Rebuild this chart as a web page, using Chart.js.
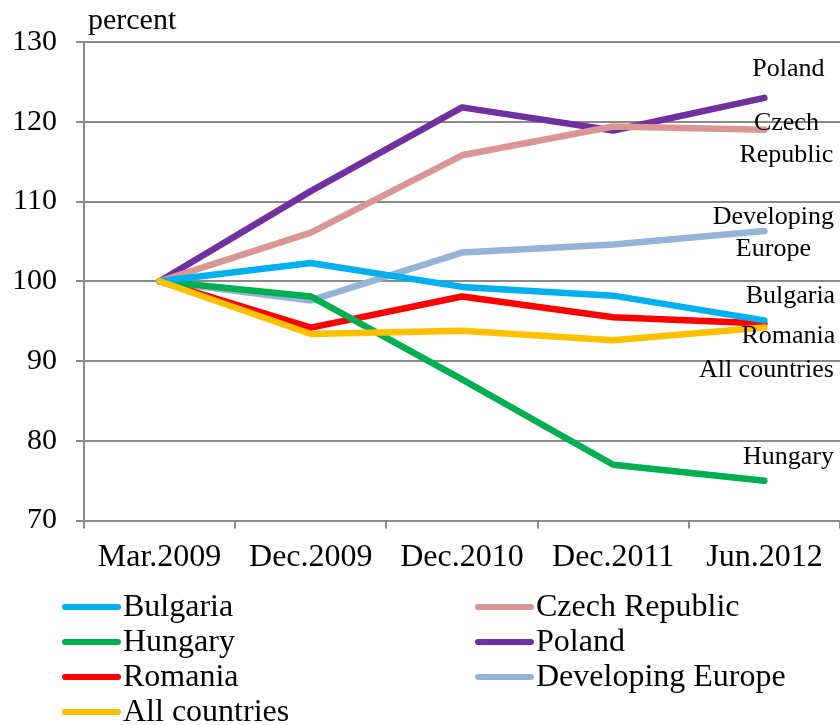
<!DOCTYPE html>
<html>
<head>
<meta charset="utf-8">
<script src="https://cdn.jsdelivr.net/npm/chart.js@4.4.1/dist/chart.umd.min.js"></script>
<style>
  body { margin: 0; background: #fff; }
  #wrap { width: 840px; height: 725px; }
</style>
</head>
<body>
<div id="wrap"><canvas id="creditChart" width="840" height="725"></canvas></div>
<script>
// Index of credit, Mar.2009 = 100
const periods = ['Mar.2009', 'Dec.2009', 'Dec.2010', 'Dec.2011', 'Jun.2012'];

const bulgaria = [100, 102.3, 99.3, 98.2, 95.1];
const czechRepublic = [100, 106.1, 115.8, 119.4, 119.0];
const hungary = [100, 98.1, 87.7, 77.0, 75.0];
const poland = [100, 111.3, 121.8, 118.9, 123.0];
const romania = [100, 94.2, 98.1, 95.5, 94.7];
const developingEurope = [100, 97.6, 103.6, 104.6, 106.3];
const allCountries = [100, 93.4, 93.8, 92.6, 94.2];

const serif = '"Liberation Serif", "Times New Roman", serif';
const gridGray = '#8a8a8a';

// legend order (two columns, filled row by row)
const series = [
    { label: 'Bulgaria', data: bulgaria, color: '#00b0f0' },
    { label: 'Czech Republic', data: czechRepublic, color: '#d99694' },
    { label: 'Hungary', data: hungary, color: '#00b050' },
    { label: 'Poland', data: poland, color: '#7030a0' },
    { label: 'Romania', data: romania, color: '#ff0000' },
    { label: 'Developing Europe', data: developingEurope, color: '#95b3d7' },
    { label: 'All countries', data: allCountries, color: '#ffc000' }
];

// end labels: lines of text, anchor value on the y scale, shift from last point
const endLabels = [
    { lines: ['Poland'], value: 126.6, dx: 24 },
    { lines: ['Czech', 'Republic'], value: 119.8, dx: 22 },
    { lines: ['Developing', 'Europe'], value: 108.0, dx: 9 },
    { lines: ['Bulgaria'], value: 98.1, dx: 26 },
    { lines: ['Romania'], value: 93.1, dx: 24 },
    { lines: ['All countries'], value: 88.8, dx: 2 },
    { lines: ['Hungary'], value: 77.9, dx: 24 }
];

const annotations = {
    id: 'annotations',
    afterDatasetsDraw(chart) {
        const ctx = chart.ctx;
        const x = chart.scales.x;
        const y = chart.scales.y;
        const lastX = x.getPixelForValue(periods.length - 1);
        ctx.save();
        ctx.fillStyle = '#000';
        ctx.font = '26px ' + serif;
        ctx.textAlign = 'center';
        ctx.textBaseline = 'middle';
        endLabels.forEach(l => {
            const top = y.getPixelForValue(l.value);
            l.lines.forEach((t, i) => ctx.fillText(t, lastX + l.dx, top + i * 32));
        });
        // unit caption above the axis
        ctx.textAlign = 'left';
        ctx.textBaseline = 'alphabetic';
        ctx.font = '30px ' + serif;
        ctx.fillText('percent', 88, 29);
        ctx.restore();
    },
    afterDraw(chart) {
        const ctx = chart.ctx;
        ctx.save();
        ctx.font = '32px ' + serif;
        ctx.textBaseline = 'middle';
        ctx.textAlign = 'left';
        ctx.lineCap = 'round';
        ctx.lineWidth = 6;
        const cols = [65, 478];
        chart.data.datasets.forEach((ds, i) => {
            const cx = cols[i % 2];
            const cy = 607 + Math.floor(i / 2) * 35;
            ctx.strokeStyle = ds.borderColor;
            ctx.beginPath();
            ctx.moveTo(cx, cy);
            ctx.lineTo(cx + 53, cy);
            ctx.stroke();
            ctx.fillStyle = '#000';
            ctx.fillText(ds.label, cx + 58, cy + 1);
        });
        ctx.restore();
    }
};

const ctx = document.getElementById('creditChart').getContext('2d');
new Chart(ctx, {
    type: 'line',
    data: {
        labels: periods,
        datasets: series.map((s, i) => ({
            label: s.label,
            data: s.data,
            borderColor: s.color,
            backgroundColor: s.color,
            borderWidth: 6.5,
            borderCapStyle: 'round',
            borderJoinStyle: 'round',
            pointRadius: 0,
            fill: false,
            tension: 0,
            order: s.label === 'All countries' ? 0 : 1
        }))
    },
    options: {
        responsive: false,
        animation: false,
        layout: {
            padding: { top: 42, right: 0, bottom: 138, left: -7 }
        },
        plugins: {
            legend: { display: false },
            tooltip: { enabled: false }
        },
        scales: {
            y: {
                min: 70,
                max: 130,
                ticks: {
                    stepSize: 10,
                    color: '#000',
                    padding: 19,
                    font: { family: serif, size: 30 }
                },
                grid: {
                    color: gridGray,
                    lineWidth: 2,
                    tickLength: 8
                },
                border: { color: gridGray, width: 2 }
            },
            x: {
                offset: true,
                ticks: {
                    color: '#000',
                    padding: 10,
                    maxRotation: 0,
                    font: { family: serif, size: 32 }
                },
                grid: {
                    offset: true,
                    drawOnChartArea: false,
                    color: gridGray,
                    lineWidth: 2,
                    tickLength: 8
                },
                border: { color: gridGray, width: 2 }
            }
        }
    },
    plugins: [annotations]
});
</script>
</body>
</html>
